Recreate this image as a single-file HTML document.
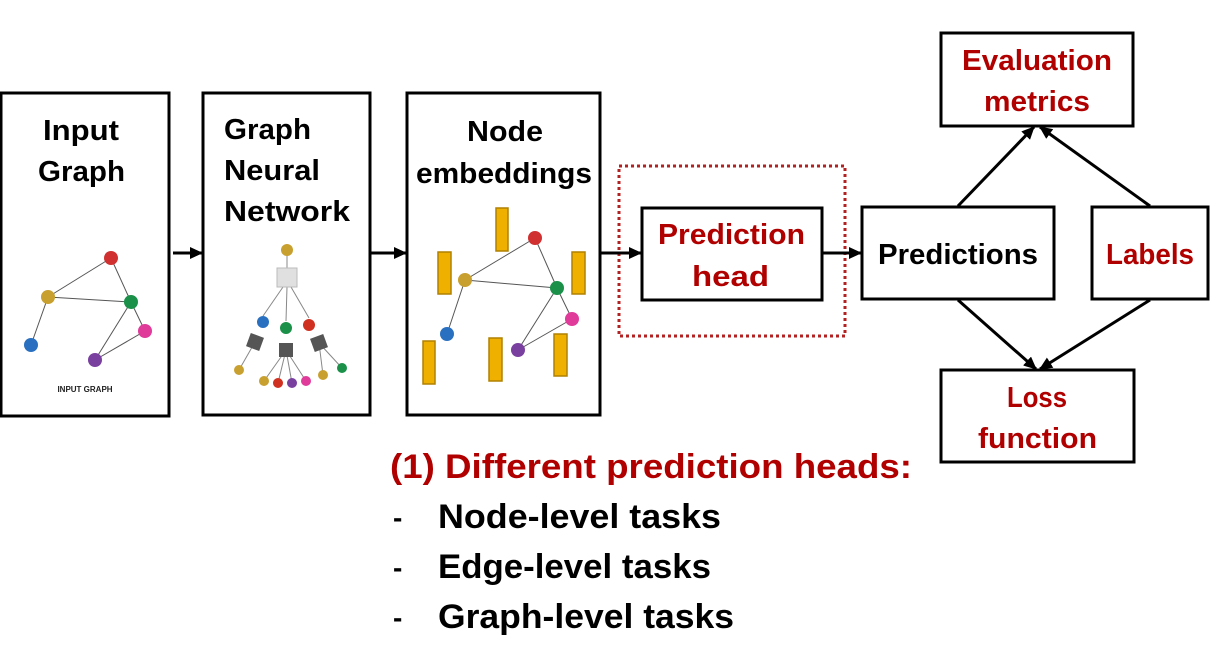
<!DOCTYPE html>
<html><head><meta charset="utf-8"><style>
html,body{margin:0;padding:0;background:#fff;}
svg{display:block;}
text{font-family:"Liberation Sans",sans-serif;font-weight:bold;}
</style></head><body>
<svg width="1212" height="654" viewBox="0 0 1212 654" xmlns="http://www.w3.org/2000/svg">
<defs>
<marker id="ah" markerWidth="13" markerHeight="12" refX="12" refY="6" orient="auto" markerUnits="userSpaceOnUse">
<path d="M0,0 L13,6 L0,12 z" fill="#000"/></marker>
</defs>
<rect width="1212" height="654" fill="#fff"/>
<g fill="none" stroke="#000" stroke-width="3">
<rect x="1" y="93" width="168" height="323"/>
<rect x="203" y="93" width="167" height="322"/>
<rect x="407" y="93" width="193" height="322"/>
<rect x="642" y="208" width="180" height="92"/>
<rect x="862" y="207" width="192" height="92"/>
<rect x="1092" y="207" width="116" height="92"/>
<rect x="941" y="33" width="192" height="93"/>
<rect x="941" y="370" width="193" height="92"/>
</g>
<rect x="619" y="166" width="226" height="170" fill="none" stroke="#b22222" stroke-width="3" stroke-dasharray="3,3"/>
<g stroke="#000" stroke-width="3" marker-end="url(#ah)">
<line x1="173" y1="253" x2="202" y2="253"/>
<line x1="371" y1="253" x2="406" y2="253"/>
<line x1="601" y1="253" x2="641" y2="253"/>
<line x1="823" y1="253" x2="861" y2="253"/>
<line x1="958" y1="206" x2="1034" y2="127"/>
<line x1="1150" y1="206" x2="1040" y2="127"/>
<line x1="958" y1="300" x2="1036" y2="369"/>
<line x1="1150" y1="300" x2="1040" y2="369"/>
</g>
<g font-size="29" fill="#000">
<text x="43" y="140" textLength="76" lengthAdjust="spacingAndGlyphs">Input</text>
<text x="38" y="181" textLength="87" lengthAdjust="spacingAndGlyphs">Graph</text>
<text x="224" y="139" textLength="87" lengthAdjust="spacingAndGlyphs">Graph</text>
<text x="224" y="180" textLength="96" lengthAdjust="spacingAndGlyphs">Neural</text>
<text x="224" y="221" textLength="126" lengthAdjust="spacingAndGlyphs">Network</text>
<text x="467" y="141" textLength="76" lengthAdjust="spacingAndGlyphs">Node</text>
<text x="416" y="183" textLength="176" lengthAdjust="spacingAndGlyphs">embeddings</text>
<text x="878" y="264" textLength="160" lengthAdjust="spacingAndGlyphs">Predictions</text>
</g>
<g font-size="29" fill="#b00000">
<text x="658" y="244" textLength="147" lengthAdjust="spacingAndGlyphs">Prediction</text>
<text x="692" y="286" textLength="77" lengthAdjust="spacingAndGlyphs">head</text>
<text x="1106" y="264" textLength="88" lengthAdjust="spacingAndGlyphs">Labels</text>
<text x="962" y="70" textLength="150" lengthAdjust="spacingAndGlyphs">Evaluation</text>
<text x="984" y="111" textLength="106" lengthAdjust="spacingAndGlyphs">metrics</text>
<text x="1007" y="407" textLength="60" lengthAdjust="spacingAndGlyphs">Loss</text>
<text x="978" y="448" textLength="119" lengthAdjust="spacingAndGlyphs">function</text>
</g>
<text x="390" y="478" font-size="34" fill="#b00000" textLength="522" lengthAdjust="spacingAndGlyphs">(1) Different prediction heads:</text>
<g font-size="34" fill="#000">
<text x="393" y="527" font-weight="normal" font-size="28">-</text>
<text x="393" y="577" font-weight="normal" font-size="28">-</text>
<text x="393" y="627" font-weight="normal" font-size="28">-</text>
<text x="438" y="528" textLength="283" lengthAdjust="spacingAndGlyphs">Node-level tasks</text>
<text x="438" y="578" textLength="273" lengthAdjust="spacingAndGlyphs">Edge-level tasks</text>
<text x="438" y="628" textLength="296" lengthAdjust="spacingAndGlyphs">Graph-level tasks</text>
</g>
<g stroke="#555" stroke-width="1">
<line x1="48" y1="297" x2="111" y2="258"/><line x1="48" y1="297" x2="131" y2="302"/>
<line x1="111" y1="258" x2="131" y2="302"/><line x1="48" y1="297" x2="31" y2="345"/>
<line x1="131" y1="302" x2="145" y2="331"/><line x1="131" y1="302" x2="95" y2="360"/>
<line x1="145" y1="331" x2="95" y2="360"/>
</g>
<circle cx="111" cy="258" r="7" fill="#d03030"/><circle cx="48" cy="297" r="7" fill="#c8a030"/>
<circle cx="131" cy="302" r="7" fill="#1a9048"/><circle cx="145" cy="331" r="7" fill="#e03a9a"/>
<circle cx="95" cy="360" r="7" fill="#7a40a0"/><circle cx="31" cy="345" r="7" fill="#2a70c0"/>
<text x="85" y="392" font-size="8" text-anchor="middle" fill="#222">INPUT GRAPH</text>
<g stroke="#888" stroke-width="1">
<line x1="287" y1="250" x2="287" y2="268"/>
<line x1="283" y1="287" x2="263" y2="316"/><line x1="287" y1="287" x2="286" y2="321"/><line x1="291" y1="287" x2="309" y2="318"/>
<line x1="255" y1="342" x2="239" y2="370"/>
<line x1="286" y1="350" x2="264" y2="381"/><line x1="286" y1="350" x2="278" y2="383"/><line x1="286" y1="350" x2="292" y2="383"/><line x1="286" y1="350" x2="306" y2="381"/>
<line x1="319" y1="343" x2="323" y2="375"/><line x1="319" y1="343" x2="342" y2="368"/>
</g>
<circle cx="287" cy="250" r="6" fill="#c8a030"/>
<rect x="277" y="268" width="20" height="19" fill="#e0e0e0" stroke="#bbb"/>
<circle cx="263" cy="322" r="6" fill="#2a70c0"/><circle cx="286" cy="328" r="6" fill="#1a9048"/><circle cx="309" cy="325" r="6" fill="#d03020"/>
<rect x="248" y="335" width="14" height="14" fill="#555" transform="rotate(20 255 342)"/>
<rect x="279" y="343" width="14" height="14" fill="#555"/>
<rect x="312" y="336" width="14" height="14" fill="#555" transform="rotate(-20 319 343)"/>
<circle cx="239" cy="370" r="5" fill="#c8a030"/><circle cx="264" cy="381" r="5" fill="#c8a030"/>
<circle cx="278" cy="383" r="5" fill="#d03020"/><circle cx="292" cy="383" r="5" fill="#7a40a0"/>
<circle cx="306" cy="381" r="5" fill="#e03a9a"/><circle cx="323" cy="375" r="5" fill="#c8a030"/>
<circle cx="342" cy="368" r="5" fill="#1a9048"/>
<g fill="#f0b000" stroke="#b08000" stroke-width="1.5">
<rect x="496" y="208" width="12" height="43"/><rect x="438" y="252" width="13" height="42"/>
<rect x="572" y="252" width="13" height="42"/><rect x="423" y="341" width="12" height="43"/>
<rect x="489" y="338" width="13" height="43"/><rect x="554" y="334" width="13" height="42"/>
</g>
<g stroke="#555" stroke-width="1">
<line x1="465" y1="280" x2="535" y2="238"/><line x1="465" y1="280" x2="557" y2="288"/>
<line x1="535" y1="238" x2="557" y2="288"/><line x1="465" y1="280" x2="447" y2="334"/>
<line x1="557" y1="288" x2="572" y2="319"/><line x1="557" y1="288" x2="518" y2="350"/>
<line x1="572" y1="319" x2="518" y2="350"/>
</g>
<circle cx="535" cy="238" r="7" fill="#d03030"/><circle cx="465" cy="280" r="7" fill="#c8a030"/>
<circle cx="557" cy="288" r="7" fill="#1a9048"/><circle cx="572" cy="319" r="7" fill="#e03a9a"/>
<circle cx="518" cy="350" r="7" fill="#7a40a0"/><circle cx="447" cy="334" r="7" fill="#2a70c0"/>
</svg>
</body></html>
